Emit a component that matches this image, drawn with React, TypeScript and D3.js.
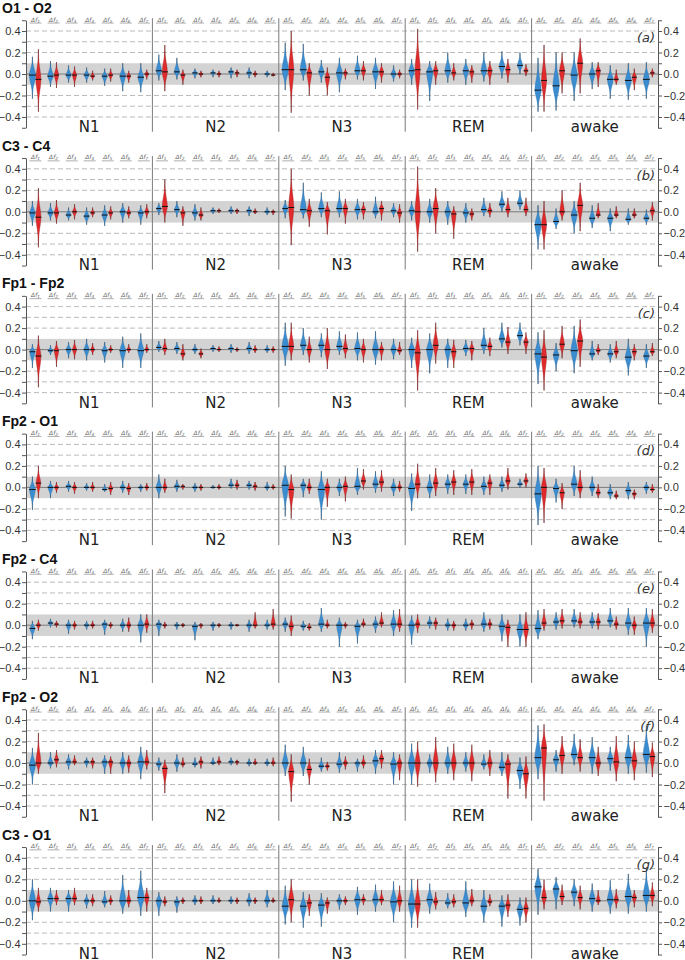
import React from "react";
import * as d3 from "d3";

const PANEL_TITLES = ["O1 - O2", "C3 - C4", "Fp1 - Fp2", "Fp2 - O1", "Fp2 - C4", "Fp2 - O2", "C3 - O1"];
const PANEL_TAGS = ["(a)", "(b)", "(c)", "(d)", "(e)", "(f)", "(g)"];
const STAGES = ["N1", "N2", "N3", "REM", "awake"];
const BANDS = ["1", "2", "3", "4", "5", "6", "7"];
const Y_TICKS = [-0.5, -0.4, -0.3, -0.2, -0.1, 0, 0.1, 0.2, 0.3, 0.4, 0.5];
const GRID_LINES = [-0.4, -0.3, -0.2, 0.2, 0.3, 0.4];

// values in hundredths; per band: blue median, blue min, blue max, red median, red min, red max
const o1o2 = [
  [-1, -23, 16, -5, -35, 23, -2, -12, 12, -1, -13, 11, -1, -8, 8, -1, -12, 7, -1, -8, 6, -2, -6, 3, -2, -11, 5, -1, -7, 5, -2, -16, 10, -2, -8, 3, -3, -17, 10, 0, -5, 4],
  [3, -6, 18, 2, -16, 27, 2, -5, 15, -1, -10, 4, 1, -4, 5, 0, -3, 3, 1, -3, 4, 0, -3, 3, 2, -4, 6, 1, -3, 4, 1, -4, 6, 0, -3, 3, 0, -3, 3, -1, -2, 1],
  [4, -15, 29, 4, -36, 40, 4, -6, 28, 1, -20, 10, 2, -8, 13, -3, -20, 6, 1, -17, 15, 1, -5, 5, 3, -5, 17, 3, -6, 12, 2, -14, 15, 2, -8, 10, 0, -7, 8, 0, -4, 4],
  [3, -10, 14, 4, -33, 42, 2, -25, 12, 3, -10, 12, 3, -8, 20, 1, -6, 10, 3, -10, 14, 2, -8, 8, 3, -7, 20, 3, -10, 12, 7, -4, 21, 4, -8, 14, 8, 0, 20, 3, -2, 9],
  [-15, -35, 15, -6, -35, 27, -11, -34, 20, 3, -18, 20, -1, -25, 20, 10, -18, 33, 0, -14, 11, 3, -12, 11, -5, -23, 8, -5, -10, 4, -6, -24, 10, -3, -15, 5, -5, -23, 11, 1, -3, 5],
];
const c3c4 = [
  [-1, -13, 10, -5, -33, 22, -1, -8, 8, -1, -11, 11, -3, -8, 4, 0, -7, 7, -4, -12, 4, -1, -5, 4, -3, -13, 6, -1, -7, 5, 0, -10, 8, -1, -6, 5, -1, -12, 6, 0, -6, 7],
  [3, -3, 8, 5, -10, 30, 2, -5, 10, -1, -13, 5, -1, -8, 7, -3, -8, 4, 1, -2, 4, 1, -1, 3, 1, -2, 5, 1, -2, 3, 1, -4, 5, 0, -2, 3, 0, -3, 4, 0, -3, 2],
  [3, -6, 11, 4, -31, 40, 2, -6, 27, 1, -14, 12, 3, -5, 18, 1, -21, 9, 3, -5, 19, 3, -11, 12, 2, -7, 12, 2, -7, 9, 0, -6, 14, 3, -8, 10, 1, -5, 8, -1, -10, 7],
  [1, -8, 10, 0, -37, 42, 0, -10, 12, 3, -20, 22, 0, -12, 10, -2, -25, 5, -1, -10, 8, -2, -8, 3, 2, -4, 13, 1, -5, 8, 7, 0, 19, 2, -5, 13, 8, 2, 20, 2, -4, 13],
  [-12, -35, 6, -12, -35, 10, -9, -16, 3, 0, -8, 20, -3, -20, 10, 6, -18, 27, -6, -15, 6, -3, -6, 8, -6, -18, 3, -3, -6, 5, -7, -12, 3, -3, -6, 3, -6, -12, 2, 1, -8, 9],
];
const fp1fp2 = [
  [-2, -17, 5, -6, -35, 13, -1, -5, 4, -1, -16, 8, 0, -8, 7, 0, -9, 9, 0, -10, 10, 0, -5, 6, -1, -12, 7, 0, -3, 4, -1, -17, 12, 0, -3, 5, -1, -17, 15, 0, -3, 5],
  [2, -2, 8, 1, -5, 10, 1, -4, 7, -4, -10, 5, 0, -4, 5, -4, -8, 1, 1, -2, 4, 0, -2, 3, 1, -3, 5, 0, -2, 2, 1, -4, 7, 0, -3, 4, 0, -3, 4, 0, -3, 3],
  [3, -15, 25, 3, -10, 25, 4, -5, 20, 0, -12, 12, 4, -7, 15, 0, -18, 20, 3, -5, 17, 1, -8, 14, 1, -10, 16, 0, -12, 10, 0, -14, 17, 0, -10, 7, 0, -9, 10, -1, -5, 7],
  [0, -17, 11, -3, -38, 18, 0, -22, 15, 4, -13, 25, 0, -17, 10, -2, -17, 9, 1, -6, 9, 1, -10, 8, 4, -4, 20, 3, -6, 11, 10, 2, 25, 7, -4, 21, 13, 4, 25, 7, -4, 16],
  [-4, -32, 16, -7, -38, 18, -5, -20, 6, 5, -8, 22, -1, -22, 22, 8, -16, 28, -4, -10, 8, -1, -5, 5, -4, -12, 5, -2, -8, 8, -7, -24, 10, -2, -10, 5, -6, -17, 5, -2, -6, 6],
];
const fp2o1 = [
  [-2, -21, 10, 4, -10, 20, 0, -10, 6, 0, -5, 5, 1, -4, 6, 0, -6, 5, 0, -3, 4, 0, -4, 5, -2, -4, 3, -1, -7, 5, 0, -5, 6, -1, -7, 4, 0, -4, 3, 0, -3, 4],
  [0, -10, 12, 0, -5, 8, 1, -4, 7, 1, -2, 3, 0, -4, 4, 0, -3, 3, 0, -1, 2, 0, -2, 3, 2, -1, 8, 2, -2, 7, 2, -2, 6, 1, -3, 5, 0, -3, 5, 0, -2, 3],
  [2, -27, 20, -2, -29, 12, 2, -9, 8, 0, -6, 8, -2, -30, 15, 0, -18, 8, 0, -8, 8, 1, -13, 10, 1, -7, 18, 6, -2, 17, 3, -5, 15, 5, -4, 16, 0, -8, 8, 0, -4, 6],
  [-1, -22, 13, 3, -10, 22, 0, -10, 12, 4, -8, 18, 3, -6, 12, 5, -7, 16, 3, -6, 12, 5, -7, 17, 1, -7, 10, 4, -7, 12, 2, -4, 10, 6, -2, 18, 3, 0, 8, 6, 0, 13],
  [-6, -35, 20, 0, -33, 18, -1, -14, 8, -5, -20, 4, 3, -8, 20, 0, -10, 16, 0, -8, 10, -5, -10, 3, -5, -11, 3, -8, -11, -3, -3, -11, 5, -6, -11, -2, 0, -6, 5, -2, -5, 3],
];
const fp2c4 = [
  [-3, -13, 4, 0, -5, 5, 2, -2, 6, 1, -2, 4, 0, -8, 5, 0, -4, 4, 0, -4, 4, 0, -3, 4, 1, -9, 5, 0, -3, 3, 0, -6, 6, 0, -6, 7, 0, -16, 10, 1, -7, 10],
  [1, -10, 5, 0, -3, 3, 0, -4, 3, 0, -2, 2, -1, -14, 3, 0, -3, 2, 0, -5, 3, 0, -2, 2, 0, -4, 3, 0, -1, 1, 0, -6, 5, 0, -3, 12, 0, -4, 5, 1, -4, 15],
  [1, -6, 7, -1, -10, 9, -1, -5, 4, -2, -5, 2, 1, -6, 16, 0, -3, 5, 0, -20, 7, 0, -3, 3, -1, -17, 5, 1, -2, 6, 1, -7, 8, 2, -2, 12, 1, -10, 14, 1, -6, 15],
  [0, -18, 9, 1, -7, 10, 2, -3, 8, 2, -4, 7, 0, -5, 6, 0, -5, 4, 0, -5, 6, 1, -4, 5, 1, -6, 12, 1, -4, 6, -1, -15, 10, -2, -20, 5, -4, -20, 10, -4, -20, 12],
  [-3, -13, 14, 2, -5, 15, 3, -4, 12, 4, -3, 15, 4, -2, 15, 3, -3, 12, 3, -3, 12, 3, -4, 11, 4, -2, 16, 1, -4, 8, 2, -9, 16, 0, -9, 8, 2, -20, 16, 2, -7, 15],
];
const fp2o2 = [
  [-2, -20, 14, 0, -10, 28, 0, -5, 10, 3, -4, 12, 1, -6, 8, 1, -2, 7, 1, -4, 5, 1, -5, 5, 1, -10, 7, 1, -10, 6, 0, -10, 10, 0, -9, 7, 1, -15, 15, 1, -6, 12],
  [-1, -7, 5, -5, -28, 3, 0, -8, 8, -1, -4, 5, -1, -4, 5, 1, -5, 6, 0, -2, 5, 1, -2, 6, 1, -2, 5, 1, -2, 3, 0, -3, 4, 0, -2, 4, 0, -3, 4, 0, -3, 5],
  [0, -12, 17, -8, -36, 8, 0, -12, 15, -6, -20, 4, -3, -8, 5, -3, -7, 1, -1, -9, 10, 0, -6, 6, 0, -8, 4, 0, -5, 7, 2, -10, 12, 4, -5, 12, -1, -20, 10, 0, -16, 8],
  [0, -20, 18, 0, -22, 20, 0, -9, 8, 0, -18, 24, 0, -10, 15, 0, -16, 18, 0, -8, 10, 0, -17, 17, -1, -6, 8, 0, -12, 12, -4, -12, 10, -1, -33, 8, -7, -24, 5, -10, -33, 6],
  [5, -15, 35, 14, -35, 36, 3, -8, 12, 7, -10, 25, 8, -2, 27, 5, -8, 22, 5, -10, 24, 0, -12, 15, 4, -7, 15, 1, -17, 25, 5, -10, 26, 2, -16, 20, 8, -9, 35, 6, -13, 19],
];
const c3o1 = [
  [0, -18, 20, -1, -10, 12, 2, -10, 12, 2, -4, 10, 2, -10, 10, 2, -4, 12, 0, -7, 6, 0, -5, 6, -1, -6, 9, 0, -4, 5, 0, -12, 24, 0, -6, 10, 3, -14, 28, 3, -10, 12],
  [0, -14, 8, -1, -5, 4, -1, -11, 4, 0, -3, 3, 0, -4, 5, 0, -3, 4, 0, -3, 5, 0, -2, 3, 0, -3, 4, 0, -3, 3, 0, -5, 7, 0, -3, 3, 0, -6, 10, 0, -2, 3],
  [-5, -22, 14, 1, -20, 20, -5, -25, 8, -2, -14, 6, -4, -24, 7, -2, -12, 3, 0, -8, 6, 0, -4, 4, 1, -13, 13, 1, -4, 6, 1, -10, 15, 1, -4, 10, -1, -20, 18, 0, -10, 14],
  [-3, -25, 20, -3, -25, 20, 1, -12, 16, -1, -8, 8, -2, -7, 7, -1, -6, 6, -2, -15, 18, 0, -5, 11, -5, -20, 10, -1, -5, 6, -5, -24, 5, -4, -15, 6, -8, -23, 3, -7, -20, 3],
  [13, -13, 30, 3, -8, 20, 11, -8, 22, 4, -4, 15, 8, -5, 20, 3, -8, 14, 2, -10, 16, 0, -4, 10, 1, -12, 19, 1, -7, 11, 4, -12, 25, 3, -6, 10, 5, -10, 30, 5, -5, 17],
];
const PANELS = [o1o2, c3c4, fp1fp2, fp2o1, fp2c4, fp2o2, c3o1];

const WIDTH = 685;
const HEIGHT = 960;
const X0 = 26;
const X1 = 658;
const PANEL_STEP = 137.8;
const ZERO_Y = 74;
const HALF = 53.75;
const FONT = "'DejaVu Sans', sans-serif";
const TICK_FONT = "'Liberation Sans', Arial, sans-serif";
const BLUE = "#3b8dd2";
const RED = "#e12a2c";

export default function App() {
  const svgRef = React.useRef<SVGSVGElement | null>(null);

  React.useEffect(() => {
    document.body.style.margin = "0";
    const svg = d3.select(svgRef.current);
    svg.selectAll("*").remove();

    const stageX = d3.scaleBand().domain(STAGES).range([X0, X1]);
    const bandX = d3.scaleBand().domain(BANDS).range([0, stageX.bandwidth()]);
    const y = d3.scaleLinear().domain([-0.5, 0.5]).range([HALF, -HALF]);

    PANELS.forEach((panel, k) => {
      const g = svg.append("g").attr("transform", `translate(0,${ZERO_Y + k * PANEL_STEP})`);

      g.append("rect")
        .attr("x", X0)
        .attr("width", X1 - X0)
        .attr("y", y(0.1))
        .attr("height", y(-0.1) - y(0.1))
        .attr("fill", "#d3d3d3");

      g.selectAll("line.grid")
        .data(GRID_LINES)
        .join("line")
        .attr("class", "grid")
        .attr("x1", X0)
        .attr("x2", X1)
        .attr("y1", (d) => y(d))
        .attr("y2", (d) => y(d))
        .attr("stroke", "#a8a8a8")
        .attr("stroke-width", 0.8)
        .attr("stroke-dasharray", "5,3");

      g.append("line")
        .attr("x1", X0)
        .attr("x2", X1)
        .attr("y1", y(0))
        .attr("y2", y(0))
        .attr("stroke", "#7a7a7a")
        .attr("stroke-width", 1);

      g.selectAll("line.sep")
        .data(STAGES.slice(1))
        .join("line")
        .attr("class", "sep")
        .attr("x1", (d) => stageX(d)!)
        .attr("x2", (d) => stageX(d)!)
        .attr("y1", y(0.5) - 2)
        .attr("y2", y(-0.5) + 4)
        .attr("stroke", "#7a7a7a")
        .attr("stroke-width", 1);

      // band labels with underline
      STAGES.forEach((s) => {
        BANDS.forEach((b) => {
          const cx = stageX(s)! + bandX(b)! + bandX.bandwidth() / 2 + 0.5;
          g.append("line")
            .attr("x1", cx - 6)
            .attr("x2", cx + 6)
            .attr("y1", y(0.5) + 2.8)
            .attr("y2", y(0.5) + 2.8)
            .attr("stroke", "#9a9a9a")
            .attr("stroke-width", 0.8);
          const t = g
            .append("text")
            .attr("x", cx)
            .attr("y", y(0.5) + 1.3)
            .attr("text-anchor", "middle")
            .attr("font-family", FONT)
            .attr("font-size", 6)
            .attr("font-style", "italic")
            .attr("fill", "#666");
          t.append("tspan").text("Δf");
          t.append("tspan").attr("font-size", 4.3).attr("dy", 1.1).text(b);
        });
      });

      // violins
      STAGES.forEach((s, si) => {
        const row = panel[si];
        BANDS.forEach((b, bi) => {
          const cx = stageX(s)! + bandX(b)! + bandX.bandwidth() / 2;
          [0, 1].forEach((side) => {
            const base = bi * 6 + side * 3;
            const med = row[base] / 100;
            const lo = row[base + 1] / 100;
            const hi = row[base + 2] / 100;
            const vx = cx + (side === 0 ? -2.6 : 3.4);
            const range = hi - lo;
            const hw = Math.min(3.1, 1.9 + range * 3) * (side === 0 ? 1 : 0.8);
            const sUp = Math.max(0.005, (hi - med) / 3);
            const sDn = Math.max(0.005, (med - lo) / 3);
            const w = (t: number) => {
              const sd = t > med ? sUp : sDn;
              return hw * Math.exp(-0.5 * ((t - med) / sd) ** 2);
            };
            const pts = d3.range(0, 41).map((i) => lo + (range * i) / 40);
            pts.push(med);
            pts.sort((a, c) => a - c);

            g.append("line")
              .attr("x1", vx)
              .attr("x2", vx)
              .attr("y1", y(lo))
              .attr("y2", y(hi))
              .attr("stroke", "#4a4a4a")
              .attr("stroke-width", 0.7);

            g.append("path")
              .attr(
                "d",
                d3
                  .area<number>()
                  .y((t) => y(t))
                  .x0((t) => vx - w(t))
                  .x1((t) => vx + w(t))(pts)
              )
              .attr("fill", side === 0 ? BLUE : RED)
              .attr("stroke", side === 0 ? "#2a6496" : "#8f1c1c")
              .attr("stroke-width", 0.35);

            g.append("line")
              .attr("x1", vx - hw - 0.5)
              .attr("x2", vx + hw + 0.5)
              .attr("y1", y(med))
              .attr("y2", y(med))
              .attr("stroke", "#111")
              .attr("stroke-width", 1);
          });
        });
      });

      const fmt = (d: d3.NumberValue) => {
        const v = Math.round(+d * 10);
        return v % 2 === 0 && Math.abs(v) < 5 ? d3.format(".1f")(+d) : "";
      };

      const left = g
        .append("g")
        .attr("transform", `translate(${X0},0)`)
        .call(d3.axisLeft(y).tickValues(Y_TICKS).tickFormat(fmt).tickSize(4).tickSizeOuter(0).tickPadding(1.5));
      const right = g
        .append("g")
        .attr("transform", `translate(${X1},0)`)
        .call(d3.axisRight(y).tickValues(Y_TICKS).tickFormat(fmt).tickSize(4).tickSizeOuter(0).tickPadding(1.5));
      [left, right].forEach((ax) => {
        ax.select(".domain").attr("stroke", "#555");
        ax.selectAll(".tick line").attr("stroke", "#555");
        ax.selectAll(".tick text")
          .attr("font-family", TICK_FONT)
          .attr("font-size", 11)
          .attr("fill", "#333");
      });

      g.selectAll("text.stage")
        .data(STAGES)
        .join("text")
        .attr("class", "stage")
        .attr("x", (d) => stageX(d)! + stageX.bandwidth() / 2)
        .attr("y", 58)
        .attr("text-anchor", "middle")
        .attr("font-family", FONT)
        .attr("font-size", 15)
        .attr("fill", "#222")
        .text((d) => d);

      g.append("text")
        .attr("x", 2)
        .attr("y", -61.2)
        .attr("font-family", TICK_FONT)
        .attr("font-size", 14)
        .attr("font-weight", "bold")
        .attr("fill", "#111")
        .text(PANEL_TITLES[k]);

      g.append("text")
        .attr("x", 655)
        .attr("y", -32)
        .attr("text-anchor", "end")
        .attr("font-family", FONT)
        .attr("font-size", 13)
        .attr("font-style", "italic")
        .attr("fill", "#333")
        .text(PANEL_TAGS[k]);
    });
  }, []);

  return <svg ref={svgRef} width={WIDTH} height={HEIGHT} style={{ display: "block", background: "#fff" }} />;
}
